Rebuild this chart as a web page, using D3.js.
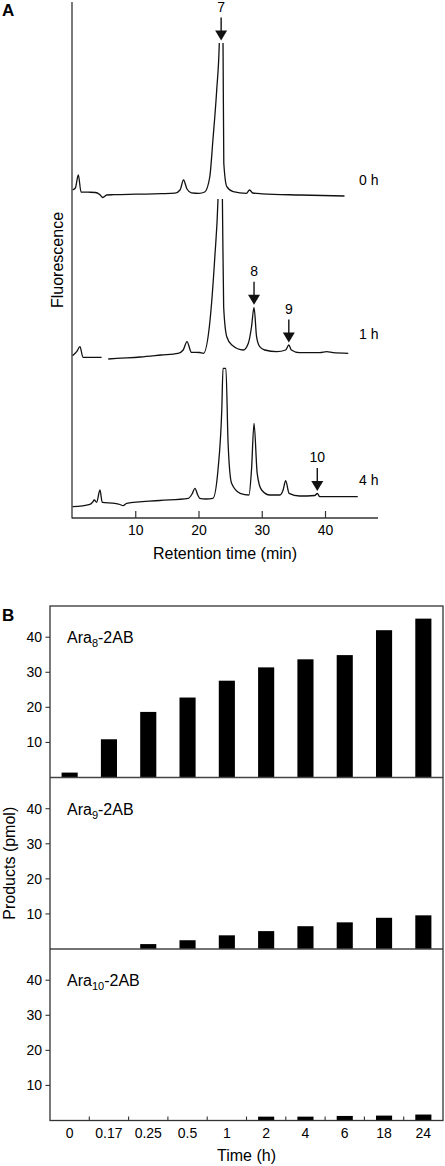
<!DOCTYPE html>
<html><head><meta charset="utf-8">
<script src="https://cdn.jsdelivr.net/npm/d3@7"></script>
<style>
body{margin:0;background:#fff}
svg{display:block}
text{font-family:"Liberation Sans",Arial,Helvetica,sans-serif;fill:#000}
</style>
</head><body>
<svg id="chart" width="445" height="1166"></svg>
<script>
// ---------- DATA ----------
// Panel A: chromatograms, [retention time (min), fluorescence above trace baseline (a.u.)]
const traceLabels = ["0 h", "1 h", "4 h"];
const trace0h = [
  [0.0,10],[0.45,12],[0.92,25],[1.35,8],[2.5,7.8],[3.6,7.5],[4.3,5.5],[4.8,2.5],[5.4,5],[6.5,5.3],
  [10,5.8],[14,6.3],[16.2,6.8],[17.0,10],[17.55,20],[18.1,11],[18.8,7.2],[20.0,6.7],[20.9,8],
  [21.7,23],[22.2,60],[22.8,110],[23.2,155],[23.5,240],[23.8,155],[23.92,37],[24.4,13.3],
  [25.4,8.3],[27.5,6.7],[28.0,10],[28.5,7],[30,6.2],[36,5],[43,4]
];
const trace1h = [
  [0.0,6.3],[0.66,10.3],[1.18,15.3],[1.66,4.7],[2.8,4.7],[4.6,4.7],[5.1,null],[5.65,3],[7,3.6],
  [10.7,5],[14,7],[16.7,8.7],[17.5,12],[18.1,20.3],[18.8,9.7],[20.1,9.5],[20.7,8.7],[21.7,39],
  [22.5,105],[23.0,162],[23.35,250],[23.7,162],[23.9,55],[24.4,25],[25.2,17],[27.0,12],
  [27.8,18.7],[28.3,35],[28.7,54.7],[29.1,25.3],[29.6,15.3],[30.4,12],[32.3,10.3],[33.7,12],
  [34.2,17],[34.6,12],[35.9,9.3],[39.1,9.3],[40.2,10.3],[41.2,9.3],[43.6,8.7]
];
const trace4h = [
  [0.0,3.3],[2.76,5.7],[3.2,8],[3.44,10],[3.82,7.7],[4.34,20],[4.7,7.7],[6.7,6.7],[7.5,5.5],
  [8.0,4.3],[8.56,6.7],[13.8,9.5],[18.3,11.7],[18.9,16],[19.35,21.7],[19.8,15],[20.1,11.7],
  [21.1,11],[22.2,11.7],[23.0,40],[23.6,100],[23.8,141.7],[24.25,141.7],[24.6,66.7],[25.15,26.7],
  [26.5,16.7],[27.9,15],[28.3,40],[28.7,86.7],[29.2,36.7],[29.9,20],[31.2,15],[32.8,15],
  [33.3,20],[33.7,29.3],[34.25,16.7],[35.9,14],[38.3,14.5],[38.7,16.5],[39.1,13.3],[45.1,13.3]
];
const traces = [trace0h, trace1h, trace4h];
const traceOffsets = [318, 156, 8];          // stacking offset of each trace (a.u.)
const traceClip = [157, 163, null];          // display clip level (a.u. above baseline)
const retentionTicks = [10, 20, 30, 40];
const peakLabels = ["7", "8", "9", "10"];
const peakTimes = [23.5, 28.7, 34.2, 38.7];
const peakTrace = [0, 1, 1, 2];

// Panel B: products (pmol)
const timeCategories = ["0","0.17","0.25","0.5","1","2","4","6","18","24"];
const ara8 = [1.4, 10.9, 18.7, 22.8, 27.6, 31.4, 33.7, 34.9, 42.0, 45.3];
const ara9 = [0, 0, 1.4, 2.5, 3.9, 5.1, 6.5, 7.6, 8.9, 9.6];
const ara10 = [0, 0, 0, 0, 0, 1.1, 1.1, 1.3, 1.4, 1.7];
const productNames = ["8", "9", "10"];
const productSeries = [ara8, ara9, ara10];
const productTicks = [10, 20, 30, 40];

// ---------- DRAW ----------
const svg = d3.select("#chart");
const ink = "#111";

// ---- Panel A ----
const xA = d3.scaleLinear().domain([0, 48.3]).range([72.5, 378]);
const yA = d3.scaleLinear().domain([0, 516]).range([518, 2]);

svg.append("text").attr("x", 2).attr("y", 16).attr("font-size", 17).attr("font-weight", "bold").text("A");

const defs = svg.append("defs");
traces.forEach((tr, i) => {
  const top = traceClip[i] == null ? 0 : yA(traceOffsets[i] + traceClip[i]);
  defs.append("clipPath").attr("id", "clipA" + i)
    .append("rect").attr("x", 0).attr("y", top).attr("width", 445).attr("height", 520 - top);
  const line = d3.line()
    .defined(d => d[1] != null)
    .x(d => xA(d[0]))
    .y(d => yA(traceOffsets[i] + d[1]))
    .curve(d3.curveMonotoneX);
  svg.append("path").attr("d", line(tr)).attr("fill", "none").attr("stroke", ink)
    .attr("stroke-width", 1.3).attr("clip-path", "url(#clipA" + i + ")");
});

const labelYOffsets = [-15, -23, -25];
traceLabels.forEach((lab, i) => {
  svg.append("text").attr("x", 359).attr("y", yA(traceOffsets[i]) + labelYOffsets[i])
    .attr("font-size", 14).text(lab);
});

// arrows
peakLabels.forEach((lab, k) => {
  const tr = traces[peakTrace[k]];
  const t = peakTimes[k];
  let m = d3.max(tr.filter(d => d[1] != null && Math.abs(d[0] - t) <= 0.6), d => d[1]);
  const c = traceClip[peakTrace[k]];
  if (c != null) m = Math.min(m, c);
  const x = xA(t);
  const tip = yA(traceOffsets[peakTrace[k]] + m) - 2.5;
  svg.append("line").attr("x1", x).attr("x2", x).attr("y1", tip - 23).attr("y2", tip - 9)
    .attr("stroke", ink).attr("stroke-width", 1.4);
  svg.append("path").attr("d", `M${x - 6},${tip - 10}L${x + 6},${tip - 10}L${x},${tip}Z`).attr("fill", ink);
  svg.append("text").attr("x", x).attr("y", tip - 29).attr("text-anchor", "middle")
    .attr("font-size", 14).text(lab);
});

// axes A
svg.append("line").attr("x1", 72).attr("x2", 72).attr("y1", 2).attr("y2", 518.5)
  .attr("stroke", "#333").attr("stroke-width", 1.3);
svg.append("line").attr("x1", 72).attr("x2", 378).attr("y1", 518).attr("y2", 518)
  .attr("stroke", "#333").attr("stroke-width", 1.3);
retentionTicks.forEach(v => {
  svg.append("line").attr("x1", xA(v)).attr("x2", xA(v)).attr("y1", 511).attr("y2", 518)
    .attr("stroke", "#333").attr("stroke-width", 1.2);
  svg.append("text").attr("x", xA(v)).attr("y", 535).attr("text-anchor", "middle")
    .attr("font-size", 14).text(v);
});
svg.append("text").attr("x", 225).attr("y", 559).attr("text-anchor", "middle")
  .attr("font-size", 16).text("Retention time (min)");
svg.append("text").attr("transform", "translate(63,260) rotate(-90)").attr("text-anchor", "middle")
  .attr("font-size", 16).text("Fluorescence");

// ---- Panel B ----
svg.append("text").attr("x", 2).attr("y", 621).attr("font-size", 17).attr("font-weight", "bold").text("B");

const left = 50, right = 443, topB = 606, subH = 171.5;
const xB = d3.scaleBand().domain(timeCategories).range([left, right]).paddingInner(0.59).paddingOuter(0.295);
const yB = d3.scaleLinear().domain([0, 48.9]).range([subH, 0]);

productSeries.forEach((series, i) => {
  const g = svg.append("g").attr("transform", `translate(0,${topB + i * subH})`);
  g.selectAll("rect.bar").data(series).join("rect").attr("class", "bar")
    .attr("x", (d, j) => xB(timeCategories[j]))
    .attr("width", xB.bandwidth())
    .attr("y", d => yB(d))
    .attr("height", d => subH - yB(d))
    .attr("fill", "#000");
  productTicks.forEach(v => {
    g.append("line").attr("x1", left - 4.5).attr("x2", left).attr("y1", yB(v)).attr("y2", yB(v))
      .attr("stroke", "#333").attr("stroke-width", 1.1);
    g.append("text").attr("x", left - 8).attr("y", yB(v) + 5).attr("text-anchor", "end")
      .attr("font-size", 14).text(v);
  });
  const t = g.append("text").attr("x", 67).attr("y", 37).attr("font-size", 16);
  t.append("tspan").text("Ara");
  t.append("tspan").attr("font-size", 11).attr("dy", 4).text(productNames[i]);
  t.append("tspan").attr("dy", -4).text("-2AB");
  if (i < 2) {
    g.append("line").attr("x1", left).attr("x2", right).attr("y1", subH).attr("y2", subH)
      .attr("stroke", "#444").attr("stroke-width", 1.3);
  }
});

const bottomB = topB + 3 * subH;
svg.append("rect").attr("x", left).attr("y", topB).attr("width", right - left).attr("height", bottomB - topB)
  .attr("fill", "none").attr("stroke", "#333").attr("stroke-width", 1.3);

timeCategories.forEach((c, j) => {
  if (j > 0) {
    const bx = xB(c) - xB.step() * xB.paddingInner() / 2;
    svg.append("line").attr("x1", bx).attr("x2", bx).attr("y1", bottomB - 4).attr("y2", bottomB)
      .attr("stroke", "#333").attr("stroke-width", 1.1);
  }
  svg.append("text").attr("x", xB(c) + xB.bandwidth() / 2).attr("y", bottomB + 17)
    .attr("text-anchor", "middle").attr("font-size", 14).text(c);
});
svg.append("text").attr("x", (left + right) / 2).attr("y", bottomB + 40).attr("text-anchor", "middle")
  .attr("font-size", 16).text("Time (h)");
svg.append("text").attr("transform", `translate(15,${topB + 1.5 * subH}) rotate(-90)`)
  .attr("text-anchor", "middle").attr("font-size", 16).text("Products (pmol)");
</script>
</body></html>
